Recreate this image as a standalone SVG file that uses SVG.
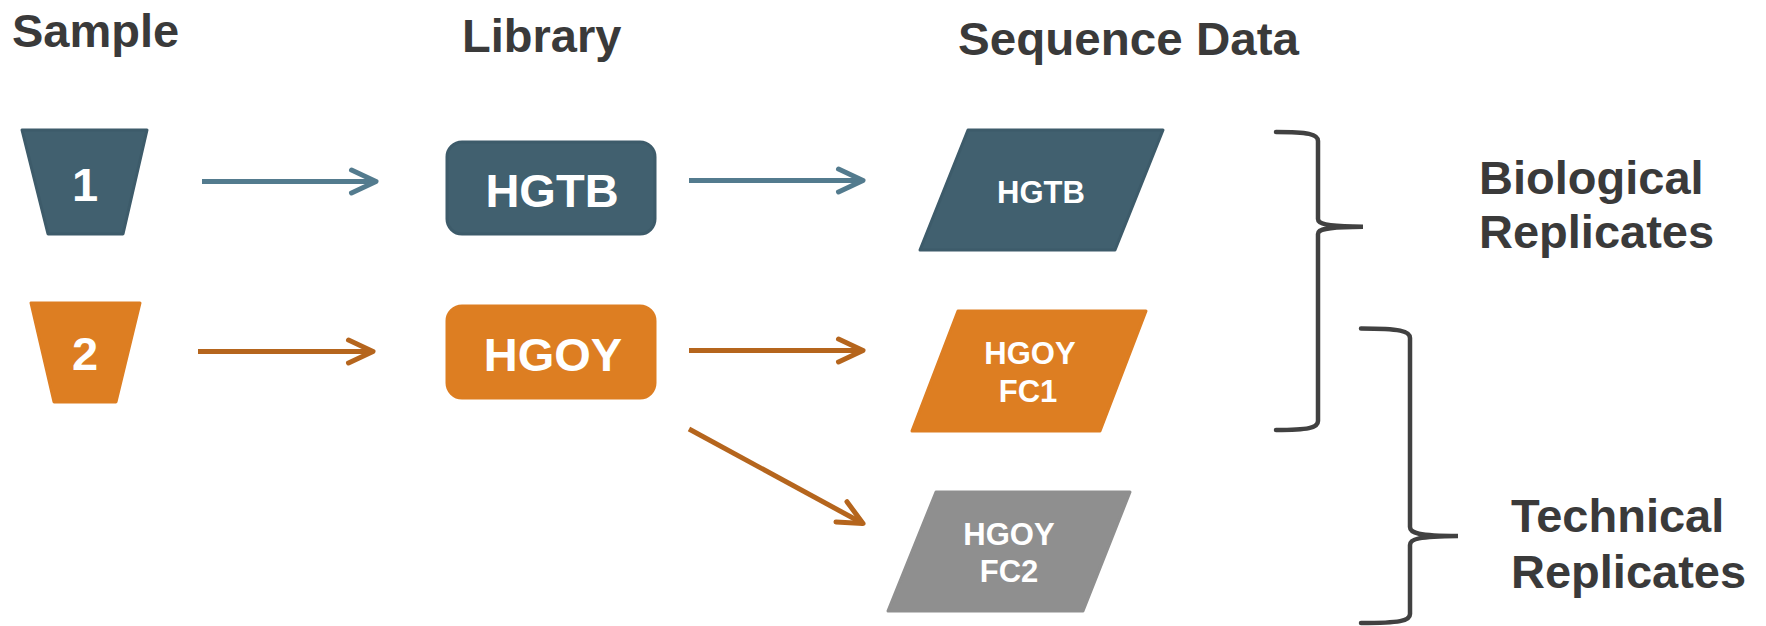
<svg xmlns="http://www.w3.org/2000/svg" width="1766" height="626" viewBox="0 0 1766 626">
<style>
.title{font-family:"Liberation Sans",Arial,sans-serif;font-weight:bold;font-size:47px;fill:#3a3a3a}
.lbl{font-family:"Liberation Sans",Arial,sans-serif;font-weight:bold;fill:#ffffff;text-anchor:middle}
.big{font-size:47px}
.small{font-size:31px}
.blue{fill:#41606f;stroke:#3d5b6a;stroke-width:3;stroke-linejoin:round}
.orange{fill:#dd7e22;stroke:#dd7e22;stroke-width:3;stroke-linejoin:round}
.gray{fill:#8f8f8f;stroke:#8f8f8f;stroke-width:3;stroke-linejoin:round}
.arrB{stroke:#537b8e;stroke-width:5;fill:none}
.arrO{stroke:#b5651d;stroke-width:5;fill:none}
.brace{stroke:#414141;stroke-width:4.5;fill:none;stroke-linecap:round}
</style>
<defs>
<marker id="headB" markerUnits="userSpaceOnUse" markerWidth="40" markerHeight="40" viewBox="-30 -20 40 40" refX="0" refY="0" orient="auto">
<path d="M-24.5,-11.5 L0,0 L-24.5,11.5" fill="none" stroke="#537b8e" stroke-width="5" stroke-linecap="round" stroke-linejoin="round"/>
</marker>
<marker id="headO" markerUnits="userSpaceOnUse" markerWidth="40" markerHeight="40" viewBox="-30 -20 40 40" refX="0" refY="0" orient="auto">
<path d="M-24.5,-11.5 L0,0 L-24.5,11.5" fill="none" stroke="#b5651d" stroke-width="5" stroke-linecap="round" stroke-linejoin="round"/>
</marker>
</defs>

<g id="titles">
<text class="title" x="12" y="47">Sample</text>
<text class="title" x="462" y="52">Library</text>
<text class="title" x="958" y="55" textLength="341" lengthAdjust="spacingAndGlyphs">Sequence Data</text>
</g>

<g id="sample1">
<polygon class="blue" points="22,130 147,130 123,234 48,234"/>
<text class="lbl big" x="85" y="201">1</text>
</g>
<g id="sample2">
<polygon class="orange" points="31,303 140,303 116,402 54,402"/>
<text class="lbl big" x="85" y="370">2</text>
</g>

<g id="libHGTB">
<rect class="blue" x="447" y="142" width="208" height="92" rx="15"/>
<text class="lbl big" x="552" y="207">HGTB</text>
</g>
<g id="libHGOY">
<rect class="orange" x="447" y="306" width="208" height="92" rx="15"/>
<text class="lbl big" x="553" y="371">HGOY</text>
</g>

<g id="seqHGTB">
<polygon class="blue" points="968,130 1163,130 1115,250 920,250"/>
<text class="lbl small" x="1041" y="203">HGTB</text>
</g>
<g id="seqFC1">
<polygon class="orange" points="958,311 1146,311 1100,431 912,431"/>
<text class="lbl small" x="1030" y="364">HGOY</text>
<text class="lbl small" x="1028" y="402">FC1</text>
</g>
<g id="seqFC2">
<polygon class="gray" points="936,492 1130,492 1083,611 888,611"/>
<text class="lbl small" x="1009" y="545">HGOY</text>
<text class="lbl small" x="1009" y="582">FC2</text>
</g>

<g id="connectors">
<line class="arrB" x1="202" y1="181.5" x2="376" y2="181.5" marker-end="url(#headB)"/>
<line class="arrO" x1="198" y1="351.5" x2="373" y2="351.5" marker-end="url(#headO)"/>
<line class="arrB" x1="689" y1="180.5" x2="863" y2="180.5" marker-end="url(#headB)"/>
<line class="arrO" x1="689" y1="350.5" x2="863" y2="350.5" marker-end="url(#headO)"/>
<line class="arrO" x1="689" y1="429" x2="863" y2="523.5" marker-end="url(#headO)"/>
</g>

<g id="braceBio">
<path class="brace" d="M1276,132 C1308,132 1318,134 1318,141 L1318,219 C1318,224 1326,226.5 1363,226.7 C1326,227 1318,229 1318,234 L1318,421 C1318,428 1308,430 1276,430"/>
<text class="title" x="1479" y="194">Biological</text>
<text class="title" x="1479" y="248">Replicates</text>
</g>
<g id="braceTech">
<path class="brace" d="M1361,328.5 C1400,328.5 1410,331 1410,338 L1410,527 C1410,533 1418,535.8 1458,536 C1418,536.3 1410,539 1410,545 L1410,614 C1410,621 1400,623 1361,623"/>
<text class="title" x="1511" y="532">Technical</text>
<text class="title" x="1511" y="588">Replicates</text>
</g>
</svg>
